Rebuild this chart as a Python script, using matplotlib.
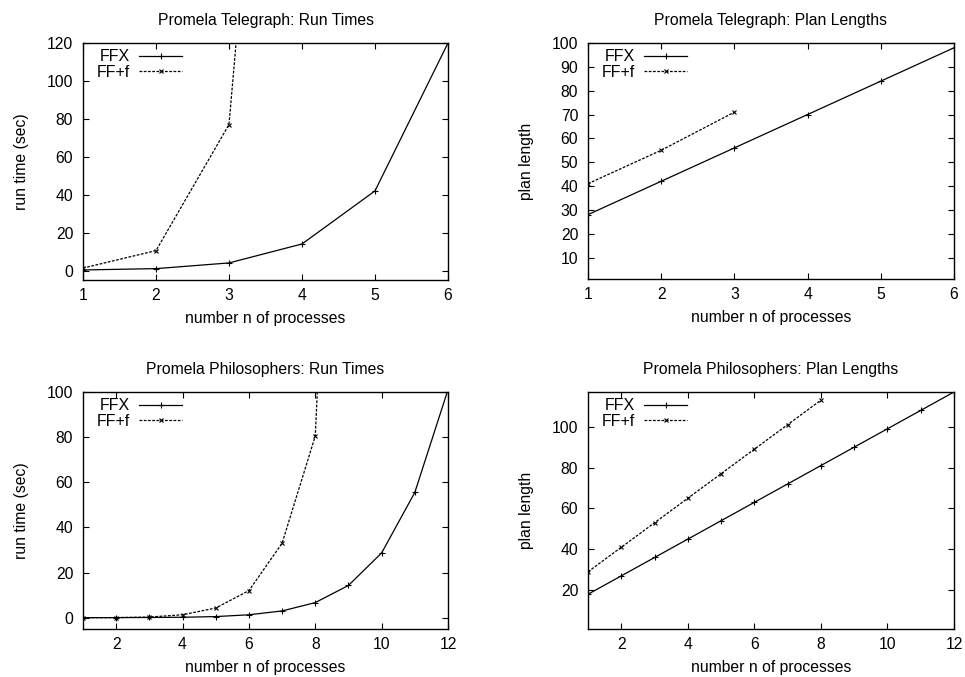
import matplotlib
matplotlib.use("Agg")
import matplotlib.pyplot as plt

plt.rcParams['font.family'] = ['Liberation Sans', 'DejaVu Sans']
plt.rcParams['font.size'] = 11.3

# Promela Telegraph
tel_n = [1, 2, 3, 4, 5, 6]
tel_ffx_time = [0.3, 1.0, 4.0, 14.0, 42.0, 120.0]
tel_fff_n = [1, 2, 3, 4]
tel_fff_time = [1.3, 10.5, 77.0, 520.0]
tel_ffx_len = [28, 42, 56, 70, 84, 98]
tel_fff_len_n = [1, 2, 3]
tel_fff_len = [41, 55, 71]

# Promela Philosophers
phi_n = [1, 2, 3, 4, 5, 6, 7, 8, 9, 10, 11, 12]
phi_ffx_time = [0.0, 0.05, 0.1, 0.2, 0.5, 1.3, 3.0, 6.7, 14.3, 28.7, 55.5, 101.0]
phi_fff_n = [1, 2, 3, 4, 5, 6, 7, 8, 9]
phi_fff_time = [0.0, 0.05, 0.3, 1.3, 4.3, 12.0, 33.0, 80.5, 400.0]
phi_ffx_len = [18, 27, 36, 45, 54, 63, 72, 81, 90, 99, 108, 117]
phi_fff_len_n = [1, 2, 3, 4, 5, 6, 7, 8]
phi_fff_len = [29, 41, 53, 65, 77, 89, 101, 113]

W, H = 965, 677
fig = plt.figure(figsize=(W / 100, H / 100), dpi=100)


def box(l, t, r, b):
    return [l / W, 1 - b / H, (r - l) / W, (b - t) / H]


def panel(rect, title, ylabel, x1, y1, x2, y2, xlim, ylim, xticks, yticks):
    ax = fig.add_axes(rect)
    ax.plot(x1, y1, color='black', lw=0.9, marker='+', ms=4, mew=0.8, label='FFX')
    ax.plot(x2, y2, color='black', lw=0.9, ls=(0, (2.2, 1.2)), marker='x', ms=3.5,
            mew=0.8, label='FF+f')
    ax.set_xlim(*xlim)
    ax.set_ylim(*ylim)
    ax.set_xticks(xticks)
    ax.set_yticks(yticks)
    ax.tick_params(direction='in', length=4, width=0.8, top=True, right=True)
    ax.tick_params(axis='y', pad=7)
    ax.tick_params(axis='x', pad=6)
    for s in ax.spines.values():
        s.set_linewidth(1.0)
    ax.set_title(title, fontsize=11.3, pad=13)
    ax.set_xlabel('number n of processes', labelpad=5.5)
    ax.set_ylabel(ylabel, labelpad=13)
    ax.legend(loc='upper left', bbox_to_anchor=(0.019, 1.0), frameon=False,
              markerfirst=False, numpoints=1,
              handlelength=2.7, handletextpad=0.6, labelspacing=0.02,
              borderaxespad=0.2, borderpad=0.2, fontsize=11.5)
    return ax


panel(box(83, 43, 448, 280), 'Promela Telegraph: Run Times', 'run time (sec)',
      tel_n, tel_ffx_time, tel_fff_n, tel_fff_time,
      (1, 6), (-5, 120), [1, 2, 3, 4, 5, 6], [0, 20, 40, 60, 80, 100, 120])

panel(box(588, 43, 954, 279), 'Promela Telegraph: Plan Lengths', 'plan length',
      tel_n, tel_ffx_len, tel_fff_len_n, tel_fff_len,
      (1, 6), (1, 100), [1, 2, 3, 4, 5, 6], list(range(10, 101, 10)))

panel(box(83, 392, 448, 629), 'Promela Philosophers: Run Times', 'run time (sec)',
      phi_n, phi_ffx_time, phi_fff_n, phi_fff_time,
      (1, 12), (-5, 100), [2, 4, 6, 8, 10, 12], [0, 20, 40, 60, 80, 100])

panel(box(588, 392, 954, 629), 'Promela Philosophers: Plan Lengths', 'plan length',
      phi_n, phi_ffx_len, phi_fff_len_n, phi_fff_len,
      (1, 12), (1, 117), [2, 4, 6, 8, 10, 12], [20, 40, 60, 80, 100])

fig.savefig('out.png', dpi=100)
